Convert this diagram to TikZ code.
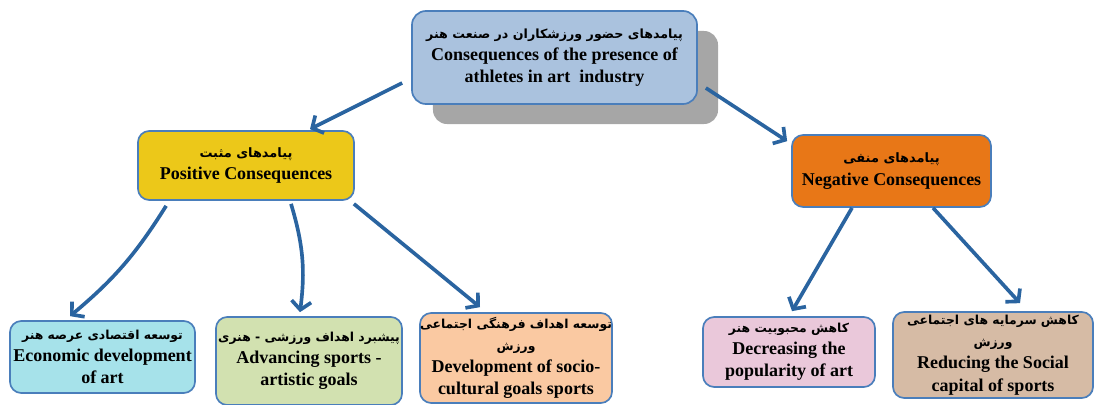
\documentclass[tikz,border=0pt]{standalone}
\usepackage{fontspec}
\setmainfont{Liberation Serif}
\newfontfamily\persianfont[Script=Arabic]{DejaVu Sans}
\TeXXeTstate=1
\newcommand{\farsi}[2][8.8]{{\persianfont\bfseries\fontsize{#1}{15}\selectfont\beginR #2\endR}}
\definecolor{boxline}{RGB}{74,126,187}
\definecolor{arrowblue}{RGB}{42,100,160}
\definecolor{shadowgray}{RGB}{166,166,166}
\definecolor{rootfill}{RGB}{170,194,222}
\definecolor{posfill}{RGB}{236,200,25}
\definecolor{negfill}{RGB}{232,119,23}
\definecolor{econfill}{RGB}{166,226,234}
\definecolor{advfill}{RGB}{210,225,176}
\definecolor{devfill}{RGB}{250,201,162}
\definecolor{decfill}{RGB}{234,200,218}
\definecolor{redfill}{RGB}{214,187,165}
\usetikzlibrary{arrows.meta, positioning, calc, shadows}

\begin{document}
\begin{tikzpicture}[
    x=0.025cm, y=-0.025cm,
    block/.style={draw=boxline, line width=1.2pt, rounded corners=8pt, align=center, inner sep=0pt, font=\fontsize{12.8}{15.8}\selectfont\bfseries},
    arrow/.style={-{Straight Barb[length=6pt, width=14pt]}, line width=2.6pt, arrowblue}
]
    \useasboundingbox (0,0) rectangle (1096,405);

    % Main node
    \node[block, fill=rootfill, rounded corners=10pt, minimum width=7.125cm, minimum height=2.325cm,
          drop shadow={shadow xshift=0.525cm, shadow yshift=-0.5cm, fill=shadowgray, opacity=1}]
        (root) at (554.5,57.5) {\farsi[9]{پیامدهای حضور ورزشکاران در صنعت هنر}\\ Consequences of the presence of\\ athletes in art\ \ industry};

    % Second level
    \node[block, fill=posfill, minimum width=5.4cm, minimum height=1.725cm] (pos) at (246,165.5) {\farsi[9.2]{پیامدهای مثبت}\\ Positive Consequences};
    \node[block, fill=negfill, minimum width=4.975cm, minimum height=1.8cm] (neg) at (891.5,171) {\farsi[9.2]{پیامدهای منفی}\\ Negative Consequences};

    % Third level
    \node[block, fill=econfill, minimum width=4.625cm, minimum height=1.8cm] (econ) at (102.5,357) {\farsi{توسعه اقتصادی عرصه هنر}\\ Economic development\\ of art};
    \node[block, fill=advfill, minimum width=4.65cm, minimum height=2.2cm] (adv) at (309,361) {\farsi{پیشبرد اهداف ورزشی - هنری}\\ Advancing sports -\\ artistic goals};
    \node[block, fill=devfill, minimum width=4.8cm, minimum height=2.25cm] (dev) at (516,358) {\farsi{توسعه اهداف فرهنگی اجتماعی}\\ \farsi{ورزش}\\ Development of socio-\\ cultural goals sports};
    \node[block, fill=decfill, minimum width=4.3cm, minimum height=1.75cm] (dec) at (789,352) {\farsi{کاهش محبوبیت هنر}\\ Decreasing the\\ popularity of art};
    \node[block, fill=redfill, minimum width=5cm, minimum height=2.15cm] (red) at (993,355) {\farsi{کاهش سرمایه های اجتماعی}\\ \farsi{ورزش}\\ Reducing the Social\\ capital of sports};

    % Arrows
    \draw[arrow] ($(root.west)+(-9,25.5)$) -- ($(pos.north)+(64,-1)$);
    \draw[arrow] ($(root.east)+(8,30.5)$) -- ($(neg.north west)+(-4,7)$);
    \draw[arrow] ($(pos.south west)+(29,5)$) to[bend left=9] ($(econ.north)+(-32.5,-4)$);
    \draw[arrow] ($(pos.south)+(45,3)$) to[bend left=12] ($(adv.north)+(-9,-4)$);
    \draw[arrow] ($(pos.south east)+(-1,3)$) -- ($(dev.north)+(-36,-5)$);
    \draw[arrow] ($(neg.south)+(-39.5,0)$) -- ($(dec.north)+(3,-5)$);
    \draw[arrow] ($(neg.south)+(41.5,0)$) -- ($(red.north)+(27,-8)$);
\end{tikzpicture}
\end{document}
